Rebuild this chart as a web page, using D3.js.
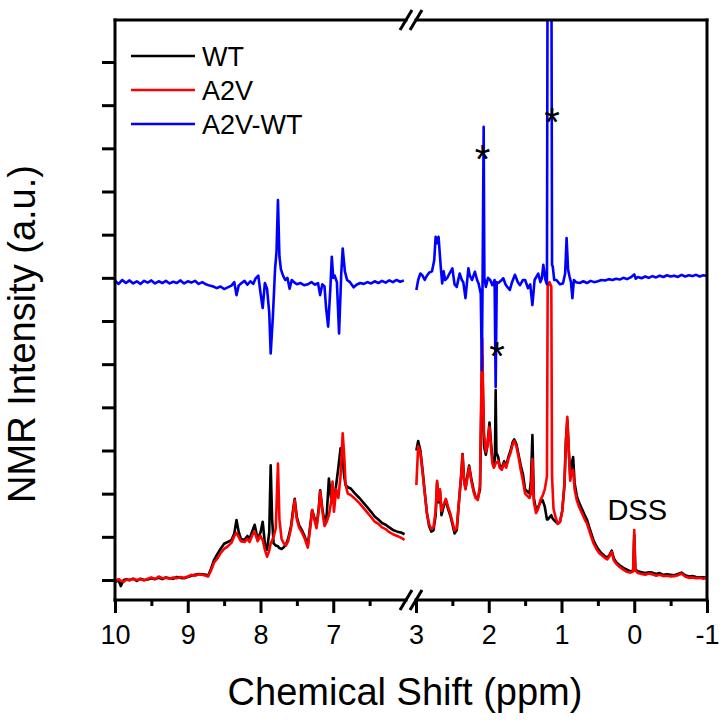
<!DOCTYPE html>
<html>
<head>
<meta charset="utf-8">
<script src="https://cdn.jsdelivr.net/npm/d3@7"></script>
<style>
  body { margin: 0; background: #fff; }
  svg { display: block; font-family: "Liberation Sans", Arial, sans-serif; }
</style>
</head>
<body>
<svg id="chart" width="722" height="720"></svg>
<script>
// spectra (ppm on the shared grid, intensity in a.u.)
const ppmLeft = [
  10.00, 9.95, 9.92, 9.88, 9.84, 9.80, 9.75, 9.70, 9.65, 9.60,
  9.55, 9.50, 9.45, 9.40, 9.35, 9.30, 9.25, 9.20, 9.15, 9.10,
  9.05, 9.00, 8.95, 8.90, 8.85, 8.80, 8.75, 8.72, 8.68, 8.64,
  8.60, 8.55, 8.50, 8.45, 8.40, 8.36, 8.33, 8.30, 8.27, 8.22,
  8.18, 8.15, 8.11, 8.08, 8.04, 8.00, 7.97, 7.94, 7.91, 7.88,
  7.86, 7.84, 7.82, 7.79, 7.76, 7.74, 7.71, 7.68, 7.65, 7.62,
  7.58, 7.55, 7.53, 7.50, 7.47, 7.43, 7.39, 7.35, 7.31, 7.29,
  7.26, 7.23, 7.20, 7.18, 7.15, 7.12, 7.09, 7.06, 7.03, 7.01,
  6.99, 6.96, 6.93, 6.90, 6.87, 6.85, 6.83, 6.80, 6.76, 6.70,
  6.64, 6.58, 6.54, 6.48, 6.43, 6.38, 6.33, 6.28, 6.24, 6.18,
  6.12, 6.07, 6.02
];
const wtLeft = [
  -0.05, -0.01, -0.14, 0.00, 0.02, 0.00, 0.03, -0.02, 0.03, 0.00,
  0.01, 0.04, 0.02, 0.05, 0.02, 0.06, 0.04, 0.03, 0.07, 0.05,
  0.04, 0.07, 0.10, 0.12, 0.14, 0.13, 0.12, 0.10, 0.26, 0.46,
  0.58, 0.72, 0.84, 0.88, 0.92, 1.08, 1.39, 1.12, 0.95, 0.93,
  1.02, 0.96, 1.15, 1.28, 0.95, 1.10, 1.35, 0.85, 0.70, 1.10,
  2.66, 1.40, 0.85, 0.80, 0.78, 0.74, 0.72, 0.76, 0.82, 0.96,
  1.25, 1.65, 1.88, 1.45, 1.27, 1.15, 1.00, 0.80, 1.35, 1.62,
  1.45, 1.25, 1.65, 2.08, 1.65, 1.35, 1.50, 2.35, 1.90, 1.80,
  1.80, 2.20, 2.60, 3.05, 2.80, 2.40, 2.20, 2.15, 2.12, 2.00,
  1.90, 1.78, 1.70, 1.58, 1.47, 1.40, 1.32, 1.28, 1.23, 1.16,
  1.12, 1.10, 1.06
];
const a2vLeft = [
  -0.03, 0.02, -0.02, -0.04, 0.01, -0.01, 0.03, 0.00, 0.02, -0.01,
  0.03, 0.06, 0.02, 0.08, 0.04, 0.05, 0.03, 0.06, 0.04, 0.07,
  0.05, 0.08, 0.12, 0.10, 0.13, 0.12, 0.10, 0.08, 0.22, 0.40,
  0.48, 0.62, 0.72, 0.78, 0.86, 1.02, 1.09, 1.00, 0.90, 0.88,
  0.95, 0.88, 1.05, 1.12, 0.90, 1.02, 0.92, 0.70, 0.54, 0.68,
  0.85, 0.92, 1.00, 1.20, 2.70, 1.40, 0.95, 0.85, 0.80, 0.90,
  1.20, 1.60, 1.85, 1.40, 1.22, 1.10, 0.95, 0.75, 1.30, 1.62,
  1.40, 1.20, 1.60, 2.05, 1.60, 1.25, 1.35, 1.50, 1.80, 2.28,
  1.58, 2.10, 1.90, 2.40, 3.40, 2.90, 2.20, 2.00, 1.97, 1.88,
  1.78, 1.66, 1.58, 1.46, 1.35, 1.30, 1.22, 1.18, 1.12, 1.06,
  1.02, 0.98, 0.93
];

const ppmRight = [
  2.995, 2.97, 2.94, 2.91, 2.88, 2.85, 2.82, 2.79, 2.76, 2.73,
  2.71, 2.69, 2.67, 2.65, 2.62, 2.59, 2.56, 2.53, 2.50, 2.47,
  2.44, 2.41, 2.38, 2.36, 2.34, 2.32, 2.29, 2.27, 2.24, 2.21,
  2.18, 2.15, 2.12, 2.10, 2.09, 2.08, 2.065, 2.04, 2.02, 1.99,
  1.97, 1.95, 1.93, 1.915, 1.905, 1.895, 1.87, 1.85, 1.82, 1.79,
  1.76, 1.73, 1.70, 1.67, 1.65, 1.62, 1.59, 1.56, 1.53, 1.50,
  1.47, 1.44, 1.42, 1.40, 1.38, 1.35, 1.32, 1.29, 1.26, 1.23,
  1.20, 1.19, 1.165, 1.14, 1.13, 1.11, 1.08, 1.05, 1.02, 0.99,
  0.96, 0.94, 0.92, 0.90, 0.88, 0.86, 0.84, 0.82, 0.79, 0.76,
  0.72, 0.68, 0.65, 0.61, 0.58, 0.56, 0.52, 0.48, 0.45, 0.41,
  0.37, 0.34, 0.31, 0.28, 0.25, 0.20, 0.15, 0.10, 0.05, 0.015,
  0.00, -0.015, -0.05, -0.10, -0.15, -0.20, -0.25, -0.30, -0.35, -0.40,
  -0.45, -0.50, -0.55, -0.60, -0.65, -0.70, -0.75, -0.80, -0.85, -0.90,
  -0.95, -1.00
];
const wtRight = [
  3.00, 3.22, 3.00, 2.55, 2.05, 1.55, 1.25, 1.12, 1.15, 1.50,
  2.25, 1.80, 2.05, 1.50, 1.70, 1.85, 1.65, 1.50, 1.30, 1.08,
  1.15, 1.80, 2.40, 2.92, 2.35, 2.12, 2.45, 2.65, 2.35, 2.10,
  1.92, 1.90, 2.10, 4.30, 5.20, 4.30, 3.10, 2.90, 3.10, 3.65,
  3.20, 2.80, 2.70, 2.80, 4.40, 2.95, 2.85, 2.65, 2.60, 2.75,
  2.65, 2.85, 3.00, 3.20, 3.26, 3.15, 2.90, 2.65, 2.45, 2.10,
  2.05, 2.00, 2.30, 3.36, 1.90, 1.62, 1.70, 1.80, 1.85, 1.70,
  1.40, 1.40, 1.45, 1.50, 1.45, 1.40, 1.35, 1.30, 1.35, 1.60,
  2.20, 3.20, 3.70, 3.00, 2.40, 2.70, 2.85, 2.25, 1.95, 1.80,
  1.65, 1.50, 1.40, 1.18, 1.02, 0.92, 0.78, 0.68, 0.62, 0.56,
  0.52, 0.58, 0.68, 0.50, 0.42, 0.34, 0.28, 0.24, 0.20, 0.22,
  1.05, 0.24, 0.20, 0.18, 0.16, 0.18, 0.17, 0.14, 0.16, 0.12,
  0.13, 0.12, 0.11, 0.14, 0.17, 0.11, 0.08, 0.09, 0.07, 0.06,
  0.06, 0.05
];
const a2vRight = [
  2.20, 3.10, 2.95, 2.50, 2.00, 1.55, 1.30, 1.18, 1.22, 1.60,
  2.30, 1.85, 2.10, 1.60, 1.75, 1.88, 1.70, 1.55, 1.35, 1.15,
  1.20, 1.80, 2.40, 2.90, 2.30, 2.10, 2.40, 2.62, 2.30, 2.05,
  1.90, 1.85, 2.20, 4.60, 5.60, 4.60, 3.40, 2.97, 3.10, 3.55,
  3.10, 2.70, 2.60, 2.65, 2.70, 2.72, 2.75, 2.60, 2.55, 2.70,
  2.60, 2.80, 2.95, 3.15, 3.22, 3.10, 2.85, 2.55, 2.30, 2.00,
  1.95, 1.90, 2.00, 2.80, 1.80, 1.55, 1.65, 1.85, 1.95, 2.10,
  2.40, 6.80, 6.90, 6.80, 2.40, 1.65, 1.45, 1.30, 1.35, 1.60,
  2.20, 3.20, 3.78, 3.00, 2.30, 2.50, 2.55, 2.10, 1.85, 1.70,
  1.55, 1.40, 1.31, 1.10, 0.95, 0.85, 0.72, 0.62, 0.58, 0.52,
  0.48, 0.55, 0.65, 0.45, 0.38, 0.30, 0.24, 0.19, 0.17, 0.20,
  1.16, 0.22, 0.16, 0.14, 0.12, 0.15, 0.13, 0.10, 0.12, 0.09,
  0.10, 0.08, 0.09, 0.11, 0.15, 0.08, 0.05, 0.06, 0.04, 0.05,
  0.03, 0.05
];

// difference trace (A2V-WT), drawn with its own offset
const ppmDiffLeft = [
  10.00, 9.95, 9.90, 9.85, 9.80, 9.75, 9.70, 9.65, 9.60, 9.55,
  9.50, 9.45, 9.40, 9.35, 9.30, 9.25, 9.20, 9.15, 9.10, 9.05,
  9.00, 8.95, 8.90, 8.85, 8.80, 8.75, 8.70, 8.65, 8.60, 8.55,
  8.50, 8.45, 8.40, 8.36, 8.33, 8.30, 8.26, 8.22, 8.18, 8.14,
  8.10, 8.07, 8.03, 8.00, 7.97, 7.94, 7.91, 7.88, 7.86, 7.83,
  7.80, 7.78, 7.76, 7.74, 7.72, 7.69, 7.66, 7.63, 7.60, 7.57,
  7.54, 7.50, 7.45, 7.40, 7.35, 7.30, 7.25, 7.21, 7.18, 7.15,
  7.12, 7.10, 7.07, 7.04, 7.02, 7.00, 6.98, 6.95, 6.92, 6.89,
  6.87, 6.84, 6.81, 6.77, 6.72, 6.68, 6.63, 6.58, 6.53, 6.48,
  6.43, 6.38, 6.33, 6.28, 6.23, 6.18, 6.13, 6.08, 6.03
];
const diffLeft = [
  6.93, 6.86, 6.95, 6.88, 6.94, 6.87, 6.92, 6.86, 6.93, 6.89,
  6.94, 6.87, 6.92, 6.88, 6.93, 6.87, 6.91, 6.88, 6.94, 6.87,
  6.92, 6.89, 6.93, 6.86, 6.90, 6.85, 6.82, 6.80, 6.76, 6.80,
  6.74, 6.78, 6.82, 6.90, 6.60, 6.82, 6.88, 6.93, 6.84, 6.92,
  6.86, 6.98, 7.05, 6.65, 6.30, 6.88, 6.75, 6.20, 5.25, 6.10,
  7.20, 7.60, 8.80, 7.50, 7.20, 7.05, 6.95, 7.00, 6.75, 6.95,
  6.90, 6.85, 6.88, 6.83, 6.85, 6.90, 6.84, 6.88, 6.60, 6.85,
  6.80, 6.33, 5.87, 6.75, 7.49, 7.00, 7.05, 6.90, 5.71, 7.10,
  7.68, 7.15, 6.95, 6.90, 6.78, 6.84, 6.88, 6.86, 6.90, 6.87,
  6.92, 6.88, 6.93, 6.89, 6.94, 6.90, 6.95, 6.91, 6.94
];
const ppmDiffRight = [
  2.995, 2.97, 2.94, 2.91, 2.88, 2.85, 2.82, 2.78, 2.75, 2.73,
  2.71, 2.69, 2.66, 2.64, 2.62, 2.60, 2.57, 2.54, 2.50, 2.47,
  2.44, 2.40, 2.37, 2.35, 2.32, 2.28, 2.26, 2.23, 2.19, 2.16,
  2.14, 2.11, 2.095, 2.085, 2.07, 2.06, 2.04, 2.01, 1.98, 1.95,
  1.92, 1.905, 1.89, 1.87, 1.84, 1.80, 1.77, 1.75, 1.71, 1.68,
  1.64, 1.60, 1.57, 1.53, 1.50, 1.46, 1.43, 1.40, 1.37, 1.32,
  1.29, 1.27, 1.25, 1.22, 1.20, 1.19, 1.14, 1.13, 1.12, 1.10,
  1.07, 1.02, 0.98, 0.95, 0.93, 0.91, 0.89, 0.87, 0.85, 0.83,
  0.80, 0.75, 0.70, 0.65, 0.60, 0.55, 0.50, 0.45, 0.40, 0.35,
  0.30, 0.25, 0.20, 0.15, 0.10, 0.05, 0.00, -0.02, -0.05, -0.10,
  -0.15, -0.20, -0.25, -0.30, -0.35, -0.40, -0.45, -0.50, -0.55, -0.60,
  -0.65, -0.70, -0.75, -0.80, -0.85, -0.90, -0.95, -1.00
];
const diffRight = [
  6.72, 6.95, 7.10, 7.05, 6.95, 7.05, 7.12, 7.15, 7.40, 7.95,
  7.80, 7.95, 7.26, 6.87, 7.15, 6.95, 7.00, 7.10, 7.22, 6.85,
  6.79, 7.10, 6.95, 6.90, 6.53, 7.22, 7.05, 6.95, 7.14, 6.95,
  6.87, 6.64, 4.86, 6.90, 10.50, 7.00, 6.79, 7.00, 6.95, 6.83,
  6.95, 4.47, 6.90, 6.88, 6.92, 6.99, 6.85, 6.80, 6.72, 6.90,
  7.07, 6.90, 6.83, 6.95, 6.95, 6.76, 6.85, 6.37, 6.95, 7.10,
  6.90, 6.99, 7.30, 6.95, 6.85, 15.5, 15.5, 7.30, 7.26, 6.95,
  6.95, 6.85, 6.87, 7.10, 7.92, 7.20, 7.03, 6.90, 6.53, 6.95,
  6.90, 6.88, 6.92, 6.88, 6.93, 6.90, 6.92, 6.95, 6.94, 6.97,
  6.95, 6.98, 6.96, 7.00, 6.97, 7.01, 7.08, 6.98, 7.02, 6.99,
  7.03, 7.00, 7.04, 7.01, 7.05, 7.02, 7.06, 7.03, 7.05, 7.02,
  7.07, 7.03, 7.06, 7.04, 7.07, 7.03, 7.06, 7.04
];

const seriesNames = ["WT", "A2V", "A2V-WT"];
const seriesColors = ["#000000", "#ff0000", "#0000ff"];
const majorLeft = [10, 9, 8, 7];
const minorLeft = [9.5, 8.5, 7.5, 6.5];
const majorRight = [3, 2, 1, 0, -1];
const minorRight = [2.5, 1.5, 0.5, -0.5];
const yTicks = d3.range(0, 13);
// starred peaks: [ppm, intensity where the star sits]
const stars = [[2.085, 9.96], [1.13, 10.82], [1.887, 5.4]];
const dssLabel = { ppm: 0, value: 1.4, text: "DSS" };

const frame = { left: 115, right: 707, top: 20, bottom: 600 };
const gapLeft = 406, gapRight = 416;

const svg = d3.select("#chart");

const xLeft = d3.scaleLinear().domain([10, 6]).range([frame.left, gapLeft]);
const xRight = d3.scaleLinear().domain([3, -1]).range([gapRight, frame.right]);
const y = d3.scaleLinear().domain([0, 12]).range([580, 62]);

svg.append("clipPath").attr("id", "plotClip")
  .append("rect")
  .attr("x", frame.left).attr("y", frame.top)
  .attr("width", frame.right - frame.left).attr("height", frame.bottom - frame.top);

const plot = svg.append("g").attr("clip-path", "url(#plotClip)");

function zipSeries(ppm, vals) {
  return ppm.map((p, i) => [p, vals[i]]);
}

function drawTrace(data, x, color) {
  const line = d3.line().x((d) => x(d[0])).y((d) => y(d[1]));
  plot.append("path")
    .datum(data)
    .attr("d", line)
    .attr("fill", "none")
    .attr("stroke", color)
    .attr("stroke-width", 2.6)
    .attr("stroke-linejoin", "round");
}

drawTrace(zipSeries(ppmLeft, wtLeft), xLeft, seriesColors[0]);
drawTrace(zipSeries(ppmRight, wtRight), xRight, seriesColors[0]);
drawTrace(zipSeries(ppmLeft, a2vLeft), xLeft, seriesColors[1]);
drawTrace(zipSeries(ppmRight, a2vRight), xRight, seriesColors[1]);
drawTrace(zipSeries(ppmDiffLeft, diffLeft), xLeft, seriesColors[2]);
drawTrace(zipSeries(ppmDiffRight, diffRight), xRight, seriesColors[2]);

// axes
function styleAxis(g) {
  g.select(".domain").remove();
  g.selectAll(".tick line").attr("stroke", "#000").attr("stroke-width", 3);
  g.selectAll(".tick text").attr("font-size", 27).attr("fill", "#000")
    .attr("font-family", "Liberation Sans, Arial, sans-serif");
}

[[xLeft, majorLeft, minorLeft], [xRight, majorRight, minorRight]].forEach(([x, major, minor]) => {
  svg.append("g").attr("transform", `translate(0,${frame.bottom})`)
    .call(d3.axisBottom(x).tickValues(major).tickSize(13).tickSizeOuter(0).tickPadding(12).tickFormat((d) => String(d)))
    .call(styleAxis);
  svg.append("g").attr("transform", `translate(0,${frame.bottom})`)
    .call(d3.axisBottom(x).tickValues(minor).tickSize(6).tickSizeOuter(0).tickFormat(""))
    .call(styleAxis);
});

svg.append("g").attr("transform", `translate(${frame.left},0)`)
  .call(d3.axisLeft(y).tickValues(yTicks).tickSize(13).tickSizeOuter(0).tickFormat(""))
  .call(styleAxis);

// frame with the axis break
const frameLines = [
  [frame.left, frame.top, frame.left, frame.bottom],
  [frame.right, frame.top, frame.right, frame.bottom],
  [frame.left, frame.top, gapLeft, frame.top],
  [gapRight, frame.top, frame.right, frame.top],
  [frame.left, frame.bottom, gapLeft, frame.bottom],
  [gapRight, frame.bottom, frame.right, frame.bottom],
];
svg.append("g").selectAll("line").data(frameLines).enter().append("line")
  .attr("x1", (d) => d[0]).attr("y1", (d) => d[1])
  .attr("x2", (d) => d[2]).attr("y2", (d) => d[3])
  .attr("stroke", "#000").attr("stroke-width", 3).attr("stroke-linecap", "square");

const slashes = [];
[frame.top, frame.bottom].forEach((yy) => {
  [gapLeft, gapRight].forEach((xx) => slashes.push([xx, yy]));
});
svg.append("g").selectAll("line").data(slashes).enter().append("line")
  .attr("x1", (d) => d[0] - 6).attr("y1", (d) => d[1] + 10)
  .attr("x2", (d) => d[0] + 6).attr("y2", (d) => d[1] - 10)
  .attr("stroke", "#000").attr("stroke-width", 3);

// annotations
svg.append("g").selectAll("text").data(stars).enter().append("text")
  .attr("x", (d) => xRight(d[0]))
  .attr("y", (d) => y(d[1]) + 23)
  .attr("text-anchor", "middle")
  .attr("font-size", 40)
  .text("*");

svg.append("text")
  .attr("x", xRight(dssLabel.ppm) + 3)
  .attr("y", y(dssLabel.value))
  .attr("text-anchor", "middle")
  .attr("font-size", 29)
  .text(dssLabel.text);

// legend
const legend = svg.append("g").attr("transform", "translate(131,56)");
seriesNames.forEach((name, i) => {
  const row = legend.append("g").attr("transform", `translate(0,${i * 34})`);
  row.append("line").attr("x1", 0).attr("x2", 64).attr("y1", 0).attr("y2", 0)
    .attr("stroke", seriesColors[i]).attr("stroke-width", 2.5);
  row.append("text").attr("x", 71).attr("y", 9.5).attr("font-size", 27).text(name);
});

// axis titles
svg.append("text")
  .attr("x", (frame.left + frame.right) / 2 - 6)
  .attr("y", 705)
  .attr("text-anchor", "middle")
  .attr("font-size", 38)
  .text("Chemical Shift (ppm)");

svg.append("text")
  .attr("transform", "translate(35,334) rotate(-90)")
  .attr("text-anchor", "middle")
  .attr("font-size", 38)
  .text("NMR Intensity (a.u.)");
</script>
</body>
</html>
